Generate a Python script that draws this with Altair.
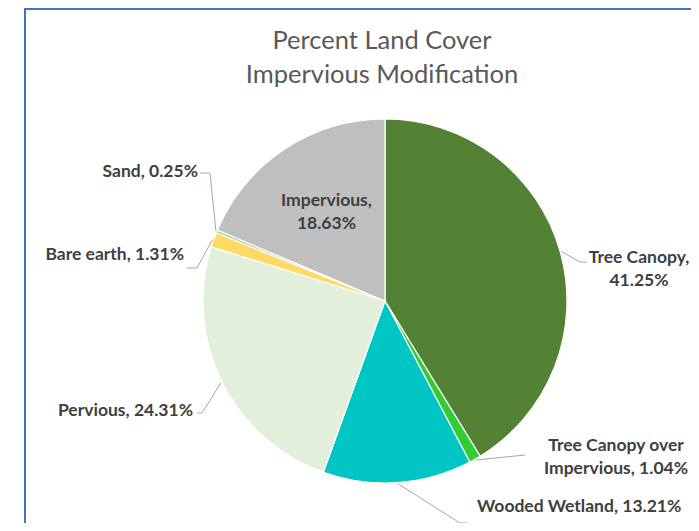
import math
import altair as alt
import pandas as pd

# ---------------- data ----------------
categories = ["Tree Canopy", "Tree Canopy over Impervious", "Wooded Wetland",
              "Pervious", "Bare earth", "Sand", "Impervious"]
percents = [41.25, 1.04, 13.21, 24.31, 1.31, 0.25, 18.63]
colors = ["#548235", "#33CC33", "#00C5C5", "#E2EFDA", "#FFD966", "#A9D18E", "#BFBFBF"]
label_templates = ["Tree Canopy,\n{v}", "Tree Canopy over\nImpervious, {v}",
                   "Wooded Wetland, {v}", "Pervious, {v}", "Bare earth, {v}",
                   "Sand, {v}", "Impervious,\n{v}"]
title_lines = ["Percent Land Cover", "Impervious Modification"]

# ---------------- layout ----------------
W, H = 683, 515
CX, CY, R = 377, 293, 182
FONT = "Lato"
LH = 23
label_layout = {  # x, y(block centre), align  (outside labels)
    "Tree Canopy": (631, 261.5, "center"),
    "Tree Canopy over Impervious": (608, 449, "center"),
    "Wooded Wetland": (469, 499, "left"),
    "Pervious": (185, 403, "right"),
    "Bare earth": (176, 247, "right"),
    "Sand": (190, 164, "right"),
}
inside_radius = {"Impervious": 106}
leader_elbows = {
    "Tree Canopy": [(572, 254), (579, 254)],
    "Tree Canopy over Impervious": [(517, 447)],
    "Wooded Wetland": [(452, 515), (460, 515)],
    "Pervious": [(194, 405), (189, 405)],
    "Bare earth": [(189, 260), (179, 260)],
    "Sand": [(202, 165), (192, 165)],
}

# ---------------- derived tables ----------------
pie_df = pd.DataFrame({"category": categories, "value": percents,
                       "idx": list(range(len(categories)))})
total = sum(percents)
mids, cum = {}, 0.0
for c, v in zip(categories, percents):
    mids[c] = (cum + v / 2) / total * 2 * math.pi
    cum += v

def polar(c, r):
    a = mids[c]
    return CX + r * math.sin(a), CY - r * math.cos(a)

lab_rows = []
for c, v, t in zip(categories, percents, label_templates):
    txt = t.format(v=f"{v:.2f}%")
    if c in label_layout:
        x, y, al = label_layout[c]
    else:
        x, y = polar(c, inside_radius[c])
        al = "center"
    n = txt.count("\n") + 1
    y = y - (n - 1) * LH / 2  # first line position
    lab_rows.append({"category": c, "text": txt, "x": x, "y": y, "align": al})
lab_df = pd.DataFrame(lab_rows)

line_rows = []
for c in categories:
    if c not in leader_elbows:
        continue
    ex, ey = polar(c, R + 1)
    pts = [(ex, ey)] + leader_elbows[c]
    for i, (x, y) in enumerate(pts):
        line_rows.append({"category": c, "k": i, "x": x, "y": y})
line_df = pd.DataFrame(line_rows)

title_df = pd.DataFrame({"text": title_lines, "x": [374, 374], "y": [33, 67]})

xs = alt.Scale(domain=[0, W], range=[0, W], nice=False, zero=False)
ys = alt.Scale(domain=[0, H], range=[0, H], nice=False, zero=False)

pie = alt.Chart(pie_df).mark_arc(radius=R, stroke="white", strokeWidth=1.2).encode(
    theta=alt.Theta("value:Q", stack=True),
    color=alt.Color("category:N", scale=alt.Scale(domain=categories, range=colors), legend=None),
    order=alt.Order("idx:Q"),
    x=alt.value(CX),
    y=alt.value(CY),
)

leaders = alt.Chart(line_df).mark_line(color="#A6A6A6", strokeWidth=1).encode(
    x=alt.X("x:Q", scale=xs, axis=None),
    y=alt.Y("y:Q", scale=ys, axis=None),
    detail="category:N",
    order="k:Q",
)

def text_layer(al):
    return alt.Chart(lab_df).transform_filter(alt.datum.align == al).mark_text(
        align=al, baseline="middle", font=FONT, fontSize=17.5, fontWeight="bold",
        color="#404040", lineBreak="\n", lineHeight=LH,
    ).encode(
        x=alt.X("x:Q", scale=xs, axis=None),
        y=alt.Y("y:Q", scale=ys, axis=None),
        text="text:N",
    )

title = alt.Chart(title_df).mark_text(
    align="center", baseline="middle", font=FONT, fontSize=25.5, color="#595959"
).encode(
    x=alt.X("x:Q", scale=xs, axis=None),
    y=alt.Y("y:Q", scale=ys, axis=None),
    text="text:N",
)

border_left = alt.Chart(pie_df).mark_rule(color="#4472C4", strokeWidth=2).encode(
    x=alt.value(17), y=alt.value(0), y2=alt.value(H))
border_top = alt.Chart(pie_df).mark_rule(color="#4472C4", strokeWidth=2).encode(
    x=alt.value(17), x2=alt.value(W), y=alt.value(1))

chart = alt.layer(
    border_left, border_top, pie, leaders,
    text_layer("left"), text_layer("right"), text_layer("center"), title,
).properties(
    width=W, height=H, autosize=alt.AutoSizeParams(type="none"), padding=0,
    background="white",
).configure_view(stroke=None)

chart.save("out.html", embed_options={"renderer": "svg", "actions": False})
